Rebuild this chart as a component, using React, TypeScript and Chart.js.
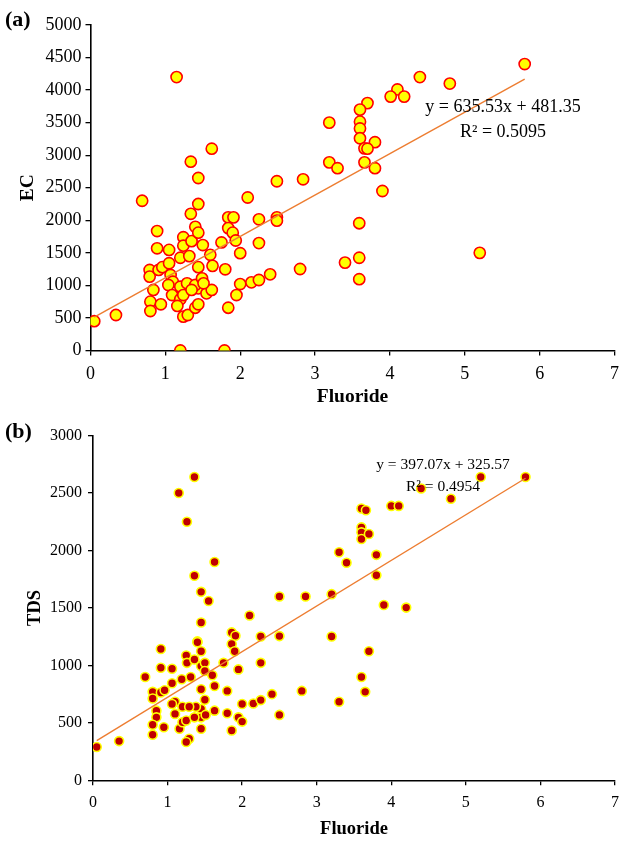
import React, { useEffect, useRef } from "react";
import { Chart, registerables } from "chart.js";

Chart.register(...registerables);

// ---------- DATA ----------
const ecFluoride = [
  0.05, 0.34, 0.69, 1.15, 1.34, 1.62, 1.44, 2.49, 2.84, 2.1, 1.44, 1.34, 0.89, 0.89, 1.05, 1.24, 1.24, 1.35,
  1.4, 1.44, 1.5, 1.6, 1.2, 1.32, 1.44, 1.63, 1.75, 1.84, 1.91, 1.84, 1.9, 1.94, 2.0, 2.25, 2.25, 2.49, 2.49,
  0.79, 0.79, 0.91, 0.96, 1.05, 1.07, 1.1, 1.04, 0.84, 0.8, 0.8, 0.94, 1.09, 1.2, 1.2, 1.16, 1.24, 1.29, 1.24,
  1.3, 1.4, 1.44, 1.44, 1.4, 1.49, 1.55, 1.62, 1.51, 1.35, 1.8, 1.84, 1.95, 2.0, 2.15, 2.25, 2.4, 2.8, 1.2,
  1.79, 5.8, 4.4, 4.8, 4.1, 4.01, 4.19, 3.7, 3.6, 3.19, 3.6, 3.6, 3.6, 3.8, 3.66, 3.7, 3.66, 3.19, 3.3, 3.8,
  3.9, 3.59, 3.59, 3.4, 3.59, 5.2,
];
const ecValues = [
  450, 545, 2300, 4200, 2900, 3100, 2650, 2600, 2630, 2350, 2250, 2100, 1835, 1570, 1545, 1740, 1610, 1680,
  1900, 1810, 1620, 1470, 1425, 1450, 1280, 1300, 1660, 2045, 2045, 1880, 1810, 1690, 1495, 2015, 1650, 2045,
  1995, 1237, 1135, 1237, 1280, 1340, 1160, 1057, 1006, 930, 750, 607, 710, 852, 980, 787, 684, 852, 1032, 520,
  545, 657, 710, 955, 1006, 1109, 878, 930, 1032, 930, 1247, 657, 852, 1021, 1047, 1083, 1170, 1252, 0, 0,
  4400, 4200, 4100, 4010, 3900, 3900, 3800, 3700, 3500, 3515, 3410, 3260, 3200, 3105, 3100, 2890, 2890, 2800,
  2800, 2450, 1955, 1425, 1350, 1095, 1500,
];
const tdsFluoride = [
  1.15, 1.36, 1.26, 1.63, 1.36, 1.45, 1.55, 1.45, 2.5, 2.85, 2.1, 1.86, 1.91, 2.25, 2.5, 1.4, 0.05, 0.35, 0.7,
  0.91, 0.91, 1.06, 1.06, 0.8, 0.8, 0.91, 0.96, 0.85, 0.85, 0.8, 0.8, 0.95, 1.1, 1.1, 1.06, 1.16, 1.2, 1.2,
  1.19, 1.25, 1.26, 1.31, 1.36, 1.4, 1.45, 1.45, 1.5, 1.5, 1.45, 1.5, 1.45, 1.45, 1.45, 1.38, 1.29, 1.29, 1.25,
  1.25, 1.36, 1.51, 1.6, 1.63, 1.63, 1.75, 1.8, 1.8, 1.86, 1.86, 1.9, 1.95, 1.95, 2.0, 2.0, 2.15, 2.25, 2.25,
  2.4, 2.5, 2.8, 5.8, 5.2, 4.8, 4.4, 4.0, 4.1, 3.6, 3.66, 3.6, 3.6, 3.6, 3.7, 3.3, 3.4, 3.8, 3.8, 3.2, 3.9,
  4.2, 3.2, 3.7, 3.6, 3.65, 3.3,
];
const tdsValues = [
  2500, 2640, 2250, 1900, 1780, 1640, 1560, 1373, 1600, 1600, 1434, 1287, 1258, 1252, 1255, 1209, 290, 341,
  899, 1143, 979, 971, 845, 770, 712, 764, 784, 606, 548, 483, 397, 462, 684, 578, 664, 448, 505, 640, 879,
  1086, 1022, 899, 1052, 1201, 1123, 994, 1022, 951, 793, 701, 621, 548, 448, 640, 640, 362, 333, 520, 548,
  569, 914, 821, 606, 1022, 778, 583, 1186, 434, 1123, 965, 548, 664, 511, 669, 698, 1022, 750, 569, 778,
  2640, 2640, 2451, 2540, 2388, 2388, 2365, 2350, 2201, 2158, 2100, 2143, 1985, 1893, 1962, 1784, 1620, 1526,
  1503, 1252, 1123, 899, 770, 684,
];

const xTickMax = 7;
const ecTickMax = 5000;
const ecTickStep = 500;
const tdsTickMax = 3000;
const tdsTickStep = 500;

const ecSlope = 635.53;
const ecIntercept = 481.35;
const ecR2 = "0.5095";
const tdsSlope = 397.07;
const tdsIntercept = 325.57;
const tdsR2 = "0.4954";

// ---------- CHART ----------
const FONT = "'Liberation Serif', 'Times New Roman', serif";

type Panel = {
  label: string;
  xs: number[];
  ys: number[];
  slope: number;
  intercept: number;
  r2: string;
  yMax: number;
  yStep: number;
  yTitle: string;
  pointBg: string;
  pointBorder: string;
  pointRadius: number;
  pointBorderWidth: number;
  height: number;
  tickSize: number;
  titleSize: number;
  padTop: number;
  padRight: number;
  yWidth: number;
  xHeight: number;
  yTitlePad: number;
  xTitlePad: number;
  yTickPad: number;
  xTickPad: number;
  eqX: number;
  eqY1: number;
  eqY2: number;
  eqSize: number;
  labelY: number;
};

function buildChart(canvas: HTMLCanvasElement, p: Panel) {
  const pts = p.xs.map((x, i) => ({ x, y: p.ys[i] }));
  const xmin = Math.min(...p.xs);
  const xmax = Math.max(...p.xs);
  const fit = [xmin, xmax].map((x) => ({ x, y: p.slope * x + p.intercept }));

  const textPlugin = {
    id: "texts" + p.label,
    afterDraw(chart: any) {
      const ctx = chart.ctx;
      ctx.save();
      ctx.fillStyle = "#000";
      ctx.textBaseline = "middle";
      ctx.font = `bold 22px ${FONT}`;
      ctx.textAlign = "left";
      ctx.fillText(p.label, 5, p.labelY);
      ctx.font = `${p.eqSize}px ${FONT}`;
      ctx.textAlign = "center";
      ctx.fillText(`y = ${p.slope}x + ${p.intercept}`, p.eqX, p.eqY1);
      ctx.fillText(`R² = ${p.r2}`, p.eqX, p.eqY2);
      ctx.restore();
    },
  };

  return new Chart(canvas, {
    type: "scatter",
    data: {
      datasets: [
        {
          type: "scatter",
          data: pts,
          backgroundColor: p.pointBg,
          borderColor: p.pointBorder,
          borderWidth: p.pointBorderWidth,
          pointRadius: p.pointRadius,
          pointBorderWidth: p.pointBorderWidth,
          order: 2,
        } as any,
        {
          type: "line",
          data: fit,
          borderColor: "#ED7D31",
          borderWidth: 1.4,
          pointRadius: 0,
          fill: false,
          showLine: true,
          order: 1,
        } as any,
      ],
    },
    options: {
      responsive: false,
      animation: false,
      devicePixelRatio: 1,
      layout: { padding: { top: p.padTop, right: p.padRight, left: 0, bottom: 0 } },
      plugins: { legend: { display: false }, tooltip: { enabled: false } },
      events: [],
      scales: {
        x: {
          type: "linear",
          min: 0,
          max: xTickMax,
          ticks: {
            stepSize: 1,
            color: "#000",
            font: { family: FONT, size: p.tickSize },
            padding: p.xTickPad,
            maxRotation: 0,
            callback: (v: any) => String(v),
          },
          grid: { display: true, drawOnChartArea: false, drawTicks: true, tickLength: 5, color: "#000", lineWidth: 1.3 },
          border: { display: true, color: "#000", width: 1.6 },
          title: {
            display: true,
            text: "Fluoride",
            color: "#000",
            font: { family: FONT, size: p.titleSize, weight: "bold" },
            padding: { top: 0, bottom: p.xTitlePad },
          },
          afterFit: (s: any) => {
            s.height = p.xHeight;
          },
        },
        y: {
          type: "linear",
          min: 0,
          max: p.yMax,
          ticks: {
            stepSize: p.yStep,
            color: "#000",
            font: { family: FONT, size: p.tickSize },
            padding: p.yTickPad,
            callback: (v: any) => String(v),
          },
          grid: { display: true, drawOnChartArea: false, drawTicks: true, tickLength: 5, color: "#000", lineWidth: 1.3 },
          border: { display: true, color: "#000", width: 1.6 },
          title: {
            display: true,
            text: p.yTitle,
            color: "#000",
            font: { family: FONT, size: p.titleSize, weight: "bold" },
            padding: { top: p.yTitlePad, bottom: 0 },
          },
          afterFit: (s: any) => {
            s.width = p.yWidth;
          },
        },
      },
    } as any,
    plugins: [textPlugin],
  });
}

const panelA: Panel = {
  label: "(a)",
  xs: ecFluoride,
  ys: ecValues,
  slope: ecSlope,
  intercept: ecIntercept,
  r2: ecR2,
  yMax: ecTickMax,
  yStep: ecTickStep,
  yTitle: "EC",
  pointBg: "#FFFF00",
  pointBorder: "#FF0000",
  pointRadius: 5.6,
  pointBorderWidth: 1.6,
  height: 420,
  tickSize: 18,
  titleSize: 19.5,
  padTop: 25,
  padRight: 4.5,
  yWidth: 90.5,
  xHeight: 69.5,
  yTitlePad: 16,
  xTitlePad: 11,
  yTickPad: 4,
  xTickPad: 8,
  eqX: 503,
  eqY1: 107,
  eqY2: 132,
  eqSize: 18,
  labelY: 20,
};

const panelB: Panel = {
  label: "(b)",
  xs: tdsFluoride,
  ys: tdsValues,
  slope: tdsSlope,
  intercept: tdsIntercept,
  r2: tdsR2,
  yMax: tdsTickMax,
  yStep: tdsTickStep,
  yTitle: "TDS",
  pointBg: "#C00000",
  pointBorder: "#FFFF00",
  pointRadius: 4.5,
  pointBorderWidth: 1.6,
  height: 422,
  tickSize: 16,
  titleSize: 18.5,
  padTop: 12.3,
  padRight: 8.7,
  yWidth: 93,
  xHeight: 61.7,
  yTitlePad: 24,
  xTitlePad: 2,
  yTickPad: 6,
  xTickPad: 8,
  eqX: 443,
  eqY1: 45,
  eqY2: 67,
  eqSize: 15.5,
  labelY: 12,
};

function ChartPanel({ panel, top }: { panel: Panel; top: number }) {
  const ref = useRef<HTMLCanvasElement | null>(null);
  useEffect(() => {
    if (!ref.current) return;
    const c = buildChart(ref.current, panel);
    return () => c.destroy();
  }, [panel]);
  return (
    <canvas
      ref={ref}
      width={627}
      height={panel.height}
      style={{ position: "absolute", left: 0, top, width: 627, height: panel.height, display: "block" }}
    />
  );
}

export default function App() {
  return (
    <div style={{ position: "absolute", left: 0, top: 0, width: 627, height: 842, background: "#fff", overflow: "hidden" }}>
      <ChartPanel panel={panelA} top={0} />
      <ChartPanel panel={panelB} top={420} />
    </div>
  );
}
